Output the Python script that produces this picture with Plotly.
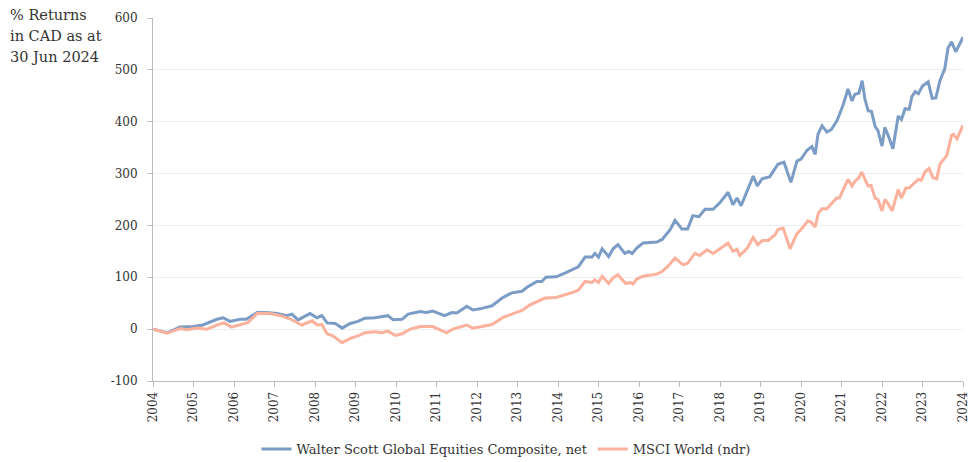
import plotly.graph_objects as go

# Walter Scott Global Equities Composite, net (decimal year, % return)
ws_years = [2004.0, 2004.35, 2004.67, 2005.0, 2005.23, 2005.58, 2005.73, 2005.9, 2006.15, 2006.3,
            2006.57, 2006.8, 2007.06, 2007.3, 2007.43, 2007.58, 2007.88, 2008.05, 2008.17, 2008.3,
            2008.5, 2008.67, 2008.87, 2009.06, 2009.23, 2009.48, 2009.8, 2009.93, 2010.15, 2010.3,
            2010.6, 2010.75, 2010.91, 2011.2, 2011.38, 2011.5, 2011.75, 2011.9, 2012.12, 2012.37,
            2012.62, 2012.86, 2013.11, 2013.26, 2013.48, 2013.6, 2013.7, 2013.95, 2014.17, 2014.37,
            2014.5, 2014.67, 2014.84, 2014.91, 2015.0, 2015.09, 2015.25, 2015.36, 2015.48, 2015.65,
            2015.75, 2015.83, 2015.95, 2016.1, 2016.44, 2016.57, 2016.77, 2016.89, 2017.06, 2017.2,
            2017.33, 2017.48, 2017.63, 2017.83, 2018.0, 2018.2, 2018.32, 2018.42, 2018.52, 2018.82,
            2018.92, 2019.04, 2019.23, 2019.43, 2019.58, 2019.75, 2019.9, 2020.0, 2020.15, 2020.27,
            2020.35, 2020.42, 2020.52, 2020.64, 2020.75, 2020.89, 2021.04, 2021.16, 2021.26, 2021.33,
            2021.43, 2021.51, 2021.58, 2021.66, 2021.74, 2021.83, 2021.9, 2022.0, 2022.07, 2022.17,
            2022.27, 2022.4, 2022.48, 2022.57, 2022.67, 2022.74, 2022.82, 2022.9, 2023.0, 2023.14,
            2023.24, 2023.33, 2023.43, 2023.55, 2023.63, 2023.72, 2023.82, 2023.92, 2024.0]
ws_values = [0, -7, 4, 5, 8, 19, 22, 15, 19, 19,
             32, 32, 30, 26, 29, 18, 30, 22, 26, 12,
             11, 2, 11, 15, 21, 22, 26, 18, 19, 29,
             34, 32, 35, 26, 32, 31, 44, 37, 40, 45,
             60, 70, 73, 82, 92, 92, 100, 101, 108, 116,
             120, 139, 139, 146, 139, 155, 140, 155, 163, 146,
             150, 146, 157, 166, 168, 173, 192, 210, 193, 193,
             219, 217, 231, 231, 244, 264, 240, 253, 238, 295,
             276, 290, 294, 318, 322, 283, 324, 328, 345, 352,
             337, 376, 392, 380, 385, 402, 432, 463, 440, 453,
             455, 479, 443, 421, 420, 391, 383, 353, 389, 370,
             348, 411, 404, 425, 424, 449, 458, 454, 469, 477,
             445, 446, 479, 502, 542, 554, 535, 550, 563]

# MSCI World (ndr)
msci_years = [2004.0, 2004.35, 2004.67, 2004.84, 2005.09, 2005.33, 2005.65, 2005.76, 2005.94, 2006.2,
              2006.35, 2006.57, 2006.89, 2007.14, 2007.38, 2007.67, 2007.93, 2008.05, 2008.17, 2008.3,
              2008.44, 2008.67, 2008.87, 2009.06, 2009.23, 2009.48, 2009.65, 2009.8, 2009.98, 2010.15,
              2010.35, 2010.6, 2010.91, 2011.25, 2011.4, 2011.75, 2011.9, 2012.12, 2012.37, 2012.65,
              2012.9, 2013.11, 2013.31, 2013.5, 2013.68, 2013.95, 2014.17, 2014.37, 2014.5, 2014.67,
              2014.84, 2014.91, 2015.0, 2015.09, 2015.25, 2015.36, 2015.48, 2015.67, 2015.78, 2015.85,
              2015.95, 2016.1, 2016.44, 2016.57, 2016.72, 2016.89, 2017.09, 2017.2, 2017.38, 2017.5,
              2017.68, 2017.83, 2018.05, 2018.2, 2018.32, 2018.42, 2018.49, 2018.67, 2018.82, 2018.93,
              2019.05, 2019.19, 2019.36, 2019.43, 2019.56, 2019.73, 2019.9, 2020.0, 2020.17, 2020.25,
              2020.35, 2020.43, 2020.52, 2020.64, 2020.79, 2020.88, 2020.95, 2021.04, 2021.16, 2021.26,
              2021.33, 2021.43, 2021.5, 2021.6, 2021.66, 2021.73, 2021.83, 2021.9, 2022.0, 2022.07,
              2022.15, 2022.25, 2022.4, 2022.48, 2022.59, 2022.67, 2022.82, 2022.9, 2022.97, 2023.06,
              2023.16, 2023.26, 2023.35, 2023.43, 2023.6, 2023.72, 2023.76, 2023.85, 2024.0]
msci_values = [0, -8, 1, -1, 2, 0, 10, 12, 4, 10,
               13, 30, 30, 26, 20, 8, 16, 8, 9, -9,
               -13, -26, -18, -13, -7, -5, -7, -4, -12, -9,
               0, 5, 5, -7, 0, 8, 2, 5, 9, 23,
               30, 36, 47, 53, 60, 61, 66, 71, 75, 92,
               90, 95, 90, 102, 88, 99, 105, 88, 90, 87,
               97, 102, 106, 111, 122, 137, 124, 127, 146, 142,
               153, 146, 158, 166, 150, 154, 142, 156, 177, 163,
               171, 171, 182, 192, 195, 155, 184, 192, 209, 206,
               197, 224, 232, 232, 245, 253, 253, 269, 289, 276,
               285, 292, 303, 285, 276, 277, 253, 250, 228, 250,
               242, 228, 269, 253, 272, 272, 282, 289, 287, 303,
               310, 292, 290, 318, 335, 374, 376, 367, 393]

year_ticks = list(range(2004, 2025))
y_ticks = [-100, 0, 100, 200, 300, 400, 500, 600]
y_tick_labels = ["-100", "0", "100", "200", "300", "400", "500", "600"]
title_lines = ["% Returns", "in CAD as at", "30 Jun 2024"]

BLUE = "#7b9cc5"
ORANGE = "#fbb19c"
FONT = "DejaVu Serif"
TXT = "#333333"

W, H = 978, 462
ML, MR, MT, MB = 153, 15, 18, 81
PW, PH = W - ML - MR, H - MT - MB

fig = go.Figure()
fig.add_trace(go.Scatter(x=ws_years, y=ws_values, mode="lines",
                         name="Walter Scott Global Equities Composite, net",
                         line=dict(color=BLUE, width=3)))
fig.add_trace(go.Scatter(x=msci_years, y=msci_values, mode="lines",
                         name="MSCI World (ndr)",
                         line=dict(color=ORANGE, width=3)))

annotations = []
for i, line in enumerate(title_lines):
    py = 15 + 21 * i
    annotations.append(dict(text=line, xref="paper", yref="paper",
                            x=(8 - ML) / PW, y=(H - MB - py) / PH,
                            xanchor="left", yanchor="middle", align="left",
                            showarrow=False, font=dict(family=FONT, size=14.5, color=TXT)))

fig.update_layout(
    width=W, height=H,
    margin=dict(l=ML, r=MR, t=MT, b=MB, autoexpand=False),
    paper_bgcolor="white", plot_bgcolor="white",
    font=dict(family=FONT, size=12, color=TXT),
    showlegend=True,
    legend=dict(orientation="h", x=(506 - ML) / PW, xanchor="center",
                y=(H - MB - 449) / PH, yanchor="middle",
                font=dict(family=FONT, size=13, color=TXT), itemwidth=30),
    xaxis=dict(range=[2004, 2024], tickmode="array", tickvals=year_ticks,
               ticktext=[str(y) for y in year_ticks], tickangle=-90,
               showgrid=False, zeroline=False, showline=True, linecolor="#bbbbbb", linewidth=1,
               ticks="outside", ticklen=5, tickcolor="#bbbbbb", automargin=False,
               tickfont=dict(family=FONT, size=12, color=TXT)),
    yaxis=dict(range=[-100, 600], tickmode="array", tickvals=y_ticks, ticktext=y_tick_labels,
               showgrid=True, gridcolor="#eeeeee", gridwidth=1,
               zeroline=False, showline=True, linecolor="#bbbbbb", linewidth=1,
               ticks="outside", ticklen=5, tickcolor="#bbbbbb", automargin=False,
               ticklabelstandoff=7,
               tickfont=dict(family=FONT, size=12, color=TXT)),
    annotations=annotations,
)

fig.write_html("out.html", config={"displayModeBar": False},
               post_script="document.body.style.margin='0px';")
